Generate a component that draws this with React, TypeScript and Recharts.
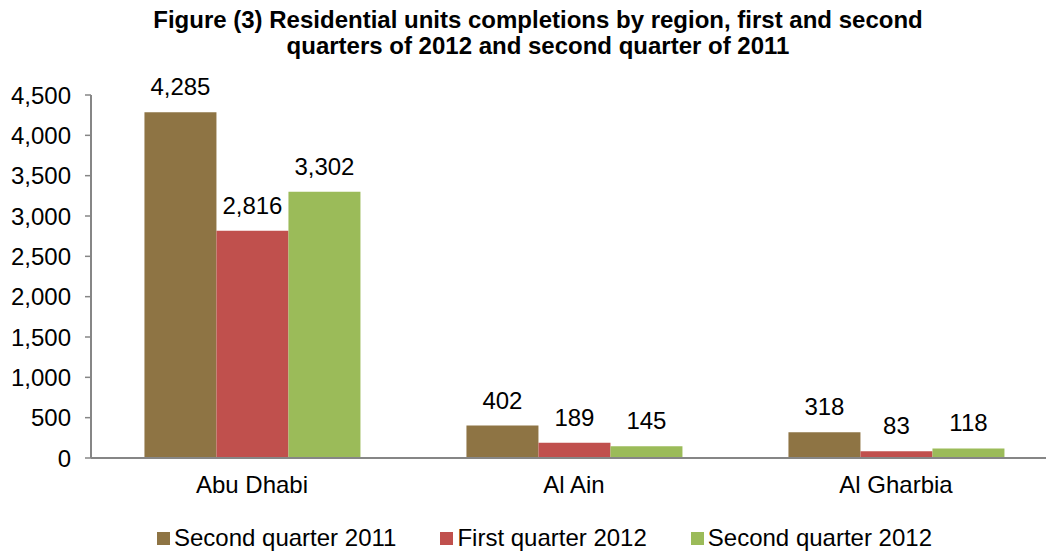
import React from 'react';
import { BarChart, Bar, XAxis, YAxis, Legend, LabelList } from 'recharts';

const regions = ['Abu Dhabi', 'Al Ain', 'Al Gharbia'];
const secondQuarter2011 = [4285, 402, 318];
const firstQuarter2012 = [2816, 189, 83];
const secondQuarter2012 = [3302, 145, 118];
const yTicks = [0, 500, 1000, 1500, 2000, 2500, 3000, 3500, 4000, 4500];
const seriesKeys = ['q2_2011', 'q1_2012', 'q2_2012'];
const seriesNames = ['Second quarter 2011', 'First quarter 2012', 'Second quarter 2012'];
const seriesColors = ['#8E7444', '#C0504D', '#9BBB59'];
const titleLines = [
  'Figure (3) Residential units completions by region, first and second',
  'quarters of 2012 and second quarter of 2011',
];

const data = regions.map((region, i) => ({
  region,
  q2_2011: secondQuarter2011[i],
  q1_2012: firstQuarter2012[i],
  q2_2012: secondQuarter2012[i],
}));

const FONT = '"Liberation Sans", Arial, sans-serif';
const fmt = (v: any) => Number(v).toLocaleString('en-US');

const renderLegend = () => (
  <div
    style={{
      display: 'flex',
      alignItems: 'center',
      height: 30,
      paddingTop: 4,
      boxSizing: 'border-box',
      paddingLeft: 157,
      gap: 44,
      fontFamily: FONT,
      fontSize: 24,
      color: '#000',
      whiteSpace: 'nowrap',
    }}
  >
    {seriesNames.map((n, i) => (
      <div key={n} style={{ display: 'flex', alignItems: 'center' }}>
        <span
          style={{
            display: 'inline-block',
            width: 13,
            height: 13,
            background: seriesColors[i],
            marginRight: 4,
          }}
        />
        <span>{n}</span>
      </div>
    ))}
  </div>
);

export default function App() {
  return (
    <div
      style={{
        position: 'fixed',
        left: 0,
        top: 0,
        width: 1046,
        height: 551,
        overflow: 'hidden',
        background: '#fff',
      }}
    >
      <div
        style={{
          position: 'absolute',
          left: 0,
          top: 7,
          width: 1076,
          textAlign: 'center',
          fontFamily: FONT,
          fontWeight: 'bold',
          fontSize: 24,
          lineHeight: '26px',
          color: '#000',
          zIndex: 2,
        }}
      >
        {titleLines.map((l) => (
          <div key={l}>{l}</div>
        ))}
      </div>
      <BarChart
        width={1062}
        height={551}
        data={data}
        margin={{ top: 95, right: 5, bottom: 0, left: 0 }}
        barGap={0}
        barCategoryGap="16.6%"
      >
        <XAxis
          dataKey="region"
          height={63}
          tickLine={false}
          tickSize={0}
          tickMargin={18}
          axisLine={{ stroke: '#868686', strokeWidth: 2 }}
          tick={{ fill: '#000', fontSize: 24, fontFamily: FONT }}
        />
        <YAxis
          width={91}
          domain={[0, 4500]}
          ticks={yTicks}
          interval={0}
          tickFormatter={fmt}
          tickSize={6}
          tickMargin={14}
          axisLine={{ stroke: '#868686', strokeWidth: 2 }}
          tickLine={{ stroke: '#868686', strokeWidth: 1.5 }}
          tick={{ fill: '#000', fontSize: 24, fontFamily: FONT }}
        />
        <Legend verticalAlign="bottom" content={renderLegend} />
        {seriesKeys.map((k, i) => (
          <Bar key={k} dataKey={k} name={seriesNames[i]} fill={seriesColors[i]} isAnimationActive={false}>
            <LabelList
              dataKey={k}
              position="top"
              offset={17}
              formatter={fmt}
              fill="#000"
              fontSize={24}
              fontFamily={FONT}
            />
          </Bar>
        ))}
      </BarChart>
    </div>
  );
}
